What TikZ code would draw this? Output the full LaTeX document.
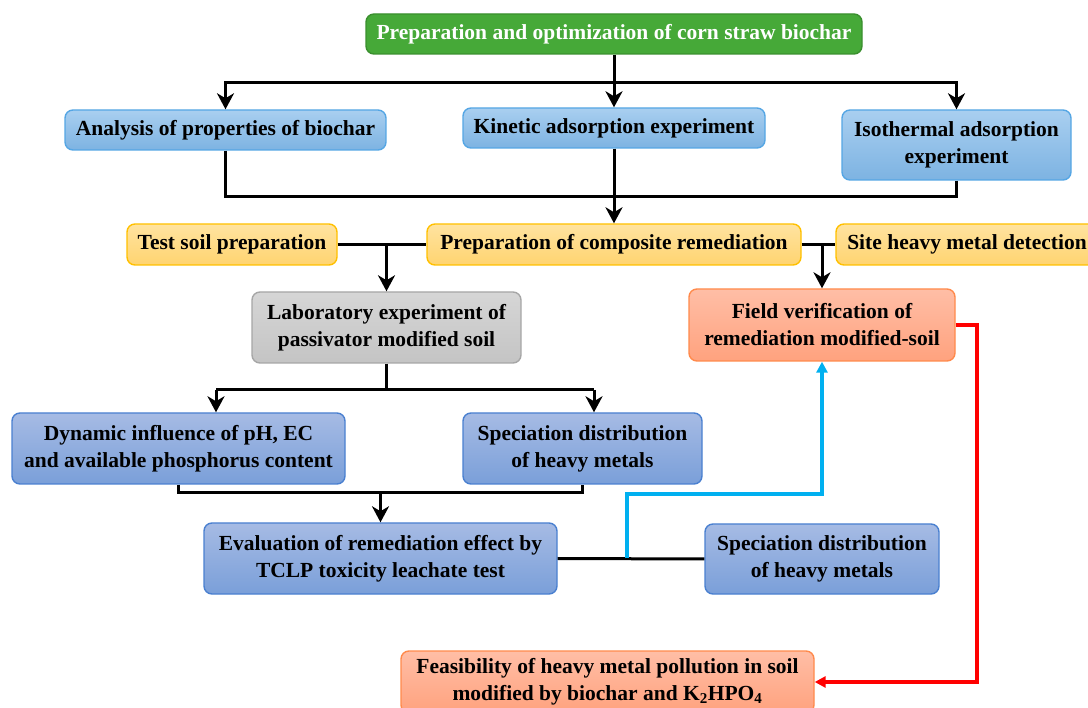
\documentclass[tikz,border=0pt]{standalone}
\usepackage{fontspec}
\setmainfont{Liberation Serif}
\usetikzlibrary{arrows.meta}
\definecolor{gfill}{HTML}{46A938}
\definecolor{gdraw}{HTML}{3A8F2E}
\definecolor{lbtop}{HTML}{A9CFF0}
\definecolor{lbbot}{HTML}{7DB3E2}
\definecolor{lbdraw}{HTML}{55A6E4}
\definecolor{ytop}{HTML}{FFE3A0}
\definecolor{ybot}{HTML}{FFD470}
\definecolor{ydraw}{HTML}{FFC000}
\definecolor{gtop}{HTML}{D6D6D6}
\definecolor{gbot}{HTML}{C4C4C4}
\definecolor{gydraw}{HTML}{A6A6A6}
\definecolor{mbtop}{HTML}{A6BBE4}
\definecolor{mbbot}{HTML}{7A9FD9}
\definecolor{mbdraw}{HTML}{4A80D0}
\definecolor{stop}{HTML}{FFBEA6}
\definecolor{sbot}{HTML}{FFA27E}
\definecolor{sdraw}{HTML}{FF8A4C}
\definecolor{cblue}{HTML}{00B0F0}
\definecolor{cred}{HTML}{FF0000}
\tikzset{
  base/.style={rounded corners=8pt, line width=1.4pt, align=center, inner sep=0pt,
    font=\bfseries\fontsize{21.5}{27}\selectfont},
  greenbox/.style={base, fill=gfill, draw=gdraw, text=white},
  lbluebox/.style={base, top color=lbtop, bottom color=lbbot, draw=lbdraw},
  yellowbox/.style={base, top color=ytop, bottom color=ybot, draw=ydraw},
  graybox/.style={base, top color=gtop, bottom color=gbot, draw=gydraw},
  mbluebox/.style={base, top color=mbtop, bottom color=mbbot, draw=mbdraw},
  salmonbox/.style={base, top color=stop, bottom color=sbot, draw=sdraw},
  conn/.style={line width=3pt, black},
  arr/.style={conn, -{Stealth[length=16pt,width=17pt,inset=5pt]}},
  bluearr/.style={line width=3.5pt, cblue, -{Triangle[length=11pt,width=11pt]}},
  redarr/.style={line width=3.5pt, cred, -{Triangle[length=11pt,width=11pt]}}
}
\begin{document}
\begin{tikzpicture}[x=1pt,y=-1pt]
\useasboundingbox (0,0) rectangle (1088,708);
% nodes
\node[greenbox, minimum width=496pt, minimum height=40pt] (prep) at (614,34) {Preparation and optimization of corn straw biochar};
\node[lbluebox, minimum width=321pt, minimum height=40pt] (ana) at (225.5,130) {Analysis of properties of biochar};
\node[lbluebox, minimum width=302pt, minimum height=40pt] (kin) at (614,128) {Kinetic adsorption experiment};
\node[lbluebox, minimum width=229pt, minimum height=70pt] (iso) at (956.5,145) {Isothermal adsorption\\experiment};
\node[yellowbox, minimum width=210pt, minimum height=41pt] (test) at (232,244.5) {Test soil preparation};
\node[yellowbox, minimum width=374pt, minimum height=41pt] (comp) at (614,244.5) {Preparation of composite remediation};
\node[yellowbox, minimum width=262pt, minimum height=41pt] (site) at (967,244.5) {Site heavy metal detection};
\node[graybox, minimum width=269pt, minimum height=71pt] (lab) at (386.5,327.5) {Laboratory experiment of\\passivator modified soil};
\node[salmonbox, minimum width=266pt, minimum height=72pt] (field) at (822,325) {Field verification of\\remediation modified-soil};
\node[mbluebox, minimum width=333pt, minimum height=71pt] (dyn) at (178.5,448.5) {Dynamic influence of pH, EC\\and available phosphorus content};
\node[mbluebox, minimum width=239pt, minimum height=71pt] (spa) at (582.5,448.5) {Speciation distribution\\of heavy metals};
\node[mbluebox, minimum width=353pt, minimum height=71pt] (eval) at (380.5,558.5) {Evaluation of remediation effect by\\TCLP toxicity leachate test};
\node[mbluebox, minimum width=234pt, minimum height=70pt] (spb) at (822,559) {Speciation distribution\\of heavy metals};
\node[salmonbox, minimum width=413pt, minimum height=62pt] (feas) at (607.5,682) {Feasibility of heavy metal pollution in soil\\modified by biochar and K\textsubscript{2}HPO\textsubscript{4}};
% junction coordinates
\coordinate (j1) at (614,83);
\coordinate (j2) at (614,197);
\coordinate (j3) at (386.5,244.5);
\coordinate (j4) at (822,244.5);
\coordinate (j5) at (386.5,390);
\coordinate (t1) at (216,390);
\coordinate (t2) at (594,390);
\coordinate (j6) at (380.5,493);
\coordinate (b0) at (627,558.5);
\coordinate (b1) at (627,494);
\coordinate (r1) at (977,500);
% connectors
\draw[arr] (prep.south) -- (kin.north);
\draw[arr] (j1) -| (ana.north);
\draw[arr] (j1) -| (iso.north);
\draw[conn] (ana.south) |- (j2);
\draw[conn] (iso.south) |- (j2);
\draw[arr] (kin.south) -- (comp.north);
\draw[conn] (test.east) -- (comp.west);
\draw[arr] (j3) -- (lab.north);
\draw[conn] (comp.east) -- (site.west);
\draw[arr] (j4) -- (field.north);
\draw[conn] (lab.south) -- (j5);
\draw[conn] (t1) -- (t2);
\draw[arr] (t1) -- (t1 |- dyn.north);
\draw[arr] (t2) -- (t2 |- spa.north);
\draw[conn] (dyn.south) |- (j6) -| (spa.south);
\draw[arr] (j6) -- (eval.north);
\draw[conn] (eval.east) -- (spb.west);
\draw[bluearr] (b0) -- (b1) -| (field.south);
\draw[redarr] (field.east) -| (r1) |- (feas.east);
\end{tikzpicture}
\end{document}
